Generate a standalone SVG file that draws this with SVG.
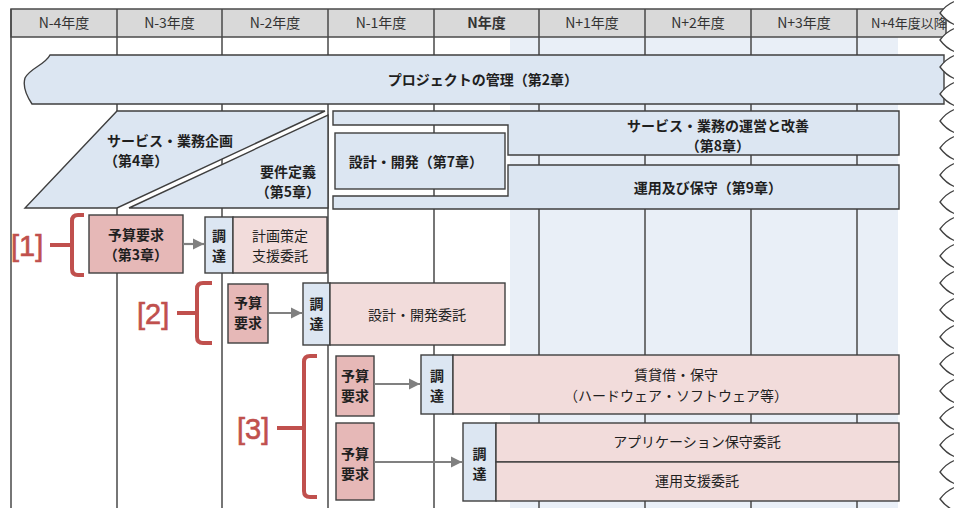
<svg xmlns="http://www.w3.org/2000/svg" width="954" height="508" viewBox="0 0 954 508">
<defs>
<style>
text{font-family:"Noto Sans CJK JP","Noto Sans",sans-serif;fill:#1f1f1f;font-size:14px;text-anchor:middle}
.b{font-weight:bold}
.hd{fill:#333;font-size:14px}
.grid{stroke:#4a4a4a;stroke-width:1.5;fill:none}
.blue{fill:#dce6f2;stroke:#3f3f3f;stroke-width:1.4}
.pink{fill:#f2dcdb;stroke:#3f3f3f;stroke-width:1.4}
.dpink{fill:#e6b8b7;stroke:#3f3f3f;stroke-width:1.4}
.red{fill:none;stroke:#c0504d;stroke-width:4;stroke-linecap:butt}
.lbl{fill:#c0504d;stroke:#c0504d;stroke-width:0.6;font-family:"Liberation Sans",sans-serif;font-size:29px;text-anchor:start}
.arr{stroke:#808080;stroke-width:2.2;fill:none}
</style>
<marker id="ah" viewBox="0 0 10 10" refX="10" refY="5" markerWidth="5" markerHeight="5.5" markerUnits="strokeWidth" orient="auto">
<path d="M0,0 L10,5 L0,10 Z" fill="#808080"/>
</marker>
</defs>
<rect x="0" y="0" width="954" height="508" fill="#fff"/>
<g id="shade"><rect x="510" y="37" width="388" height="471" fill="#e9eff7"/></g>
<g id="grid">
<rect x="11" y="9" width="935" height="28" fill="#d9d9d9" stroke="#4a4a4a" stroke-width="1.5"/>
<path class="grid" d="M11,9 V508 M117,9 V508 M222,9 V508 M328,9 V508 M434,9 V508 M539,9 V508 M645,9 V508 M751,9 V508 M857,9 V508"/>
<text class="hd" x="64" y="28">N-4年度</text>
<text class="hd" x="169.5" y="28">N-3年度</text>
<text class="hd" x="275" y="28">N-2年度</text>
<text class="hd" x="381" y="28">N-1年度</text>
<text class="hd b" x="486.5" y="28">N年度</text>
<text class="hd" x="592" y="28">N+1年度</text>
<text class="hd" x="698" y="28">N+2年度</text>
<text class="hd" x="804" y="28">N+3年度</text>
<text class="hd" x="871" y="28" style="text-anchor:start;font-size:13px">N+4年度以降</text>
</g>
<g id="project">
<path class="blue" d="M50,55 H944 V104 H32 C28,98 22,88 25,78 C30,68 45,65 50,55 Z"/>
<text class="b" x="483" y="85">プロジェクトの管理（第2章）</text>
</g>
<g id="ch4">
<path class="blue" d="M117,111 H325 L117,208 H25 Z"/>
<text class="b" x="107" y="146" style="text-anchor:start">サービス・業務企画</text>
<text class="b" x="104" y="166" style="text-anchor:start">（第4章）</text>
</g>
<g id="ch5">
<path class="blue" d="M328,115 V208 H129 Z"/>
<text class="b" x="288" y="177">要件定義</text>
<text class="b" x="288" y="197">（第5章）</text>
</g>
<g id="ch8">
<path class="blue" d="M333,111 H899 V155 H508 V125 H333 Z"/>
<text class="b" x="718" y="131">サービス・業務の運営と改善</text>
<text class="b" x="718" y="151">（第8章）</text>
</g>
<g id="ch7">
<rect class="blue" x="335" y="133" width="170" height="56"/>
<text class="b" x="416" y="167">設計・開発（第7章）</text>
</g>
<g id="ch9">
<path class="blue" d="M508,165 H899 V209 H333 V196 H508 Z"/>
<text class="b" x="708" y="193">運用及び保守（第9章）</text>
</g>
<g id="label1">
<text class="lbl" x="11" y="256">[1]</text>
<path class="red" d="M50,245 H72 M84,215 H78 Q72,215 72,221 V269 Q72,275 78,275 H84"/>
</g>
<g id="yosan1">
<rect class="dpink" x="89" y="215" width="94" height="58"/>
<text class="b" x="136" y="240">予算要求</text>
<text class="b" x="136" y="260">（第3章）</text>
</g>
<g id="chotatsu1">
<rect class="blue" x="205" y="217" width="28" height="56"/>
<text class="b" x="219" y="241">調</text>
<text class="b" x="219" y="261">達</text>
</g>
<g id="keikaku">
<rect class="pink" x="233" y="217" width="94" height="56"/>
<text x="280" y="241">計画策定</text>
<text x="280" y="261">支援委託</text>
</g>
<g id="label2">
<text class="lbl" x="137" y="324">[2]</text>
<path class="red" d="M177,313 H197 M212,283 H203 Q197,283 197,289 V337 Q197,343 203,343 H212"/>
</g>
<g id="yosan2">
<rect class="dpink" x="228" y="284" width="40" height="59"/>
<text class="b" x="248" y="308">予算</text>
<text class="b" x="248" y="328">要求</text>
</g>
<g id="chotatsu2">
<rect class="blue" x="303" y="283" width="27" height="62"/>
<text class="b" x="316.5" y="309">調</text>
<text class="b" x="316.5" y="329">達</text>
</g>
<g id="sekkei">
<rect class="pink" x="330" y="283" width="175" height="62"/>
<text x="417" y="320">設計・開発委託</text>
</g>
<g id="label3">
<text class="lbl" x="237" y="439">[3]</text>
<path class="red" d="M277,428 H304 M317,356 H310 Q304,356 304,362 V491 Q304,497 310,497 H317"/>
</g>
<g id="yosan3a">
<rect class="dpink" x="336" y="356" width="38" height="60"/>
<text class="b" x="355" y="381">予算</text>
<text class="b" x="355" y="401">要求</text>
</g>
<g id="chotatsu3a">
<rect class="blue" x="421" y="355" width="32" height="59"/>
<text class="b" x="437" y="381">調</text>
<text class="b" x="437" y="401">達</text>
</g>
<g id="chintai">
<rect class="pink" x="453" y="355" width="446" height="59"/>
<text x="676" y="380">賃貸借・保守</text>
<text x="676" y="401">（ハードウェア・ソフトウェア等）</text>
</g>
<g id="yosan3b">
<rect class="dpink" x="336" y="423" width="38" height="77"/>
<text class="b" x="355" y="459">予算</text>
<text class="b" x="355" y="479">要求</text>
</g>
<g id="chotatsu3b">
<rect class="blue" x="463" y="423" width="33" height="78"/>
<text class="b" x="479.5" y="459">調</text>
<text class="b" x="479.5" y="479">達</text>
</g>
<g id="apphoshu">
<rect class="pink" x="496" y="423" width="403" height="39"/>
<text x="697" y="447">アプリケーション保守委託</text>
</g>
<g id="unyo">
<rect class="pink" x="496" y="462" width="403" height="39"/>
<text x="697" y="486">運用支援委託</text>
</g>
<g id="connectors">
<path class="arr" d="M183,244 H204" marker-end="url(#ah)"/>
<path class="arr" d="M269,313 H302" marker-end="url(#ah)"/>
<path class="arr" d="M374,384 H420" marker-end="url(#ah)"/>
<path class="arr" d="M374,462 H462" marker-end="url(#ah)"/>
</g>
<g id="wave">
<path fill="#fff" stroke="#404040" stroke-width="1.3" d="M970,-1 L962,-0.5 C950,1 943,9 940,13 C943,17 950,25 962,26.5 C950,28 943,36 940,40 C943,44 950,52 962,53.5 C950,55 943,63 940,67 C943,71 950,79 962,80.5 C950,82 943,90 940,94 C943,98 950,106 962,107.5 C950,109 943,117 940,121 C943,125 950,133 962,134.5 C950,136 943,144 940,148 C943,152 950,160 962,161.5 C950,163 943,171 940,175 C943,179 950,187 962,188.5 C950,190 943,198 940,202 C943,206 950,214 962,215.5 C950,217 943,225 940,229 C943,233 950,241 962,242.5 C950,244 943,252 940,256 C943,260 950,268 962,269.5 C950,271 943,279 940,283 C943,287 950,295 962,296.5 C950,298 943,306 940,310 C943,314 950,322 962,323.5 C950,325 943,333 940,337 C943,341 950,349 962,350.5 C950,352 943,360 940,364 C943,368 950,376 962,377.5 C950,379 943,387 940,391 C943,395 950,403 962,404.5 C950,406 943,414 940,418 C943,422 950,430 962,431.5 C950,433 943,441 940,445 C943,449 950,457 962,458.5 C950,460 943,468 940,472 C943,476 950,484 962,485.5 C950,487 943,495 940,499 C943,503 950,511 962,512.5 L970,512.5 Z"/>
</g>
</svg>
